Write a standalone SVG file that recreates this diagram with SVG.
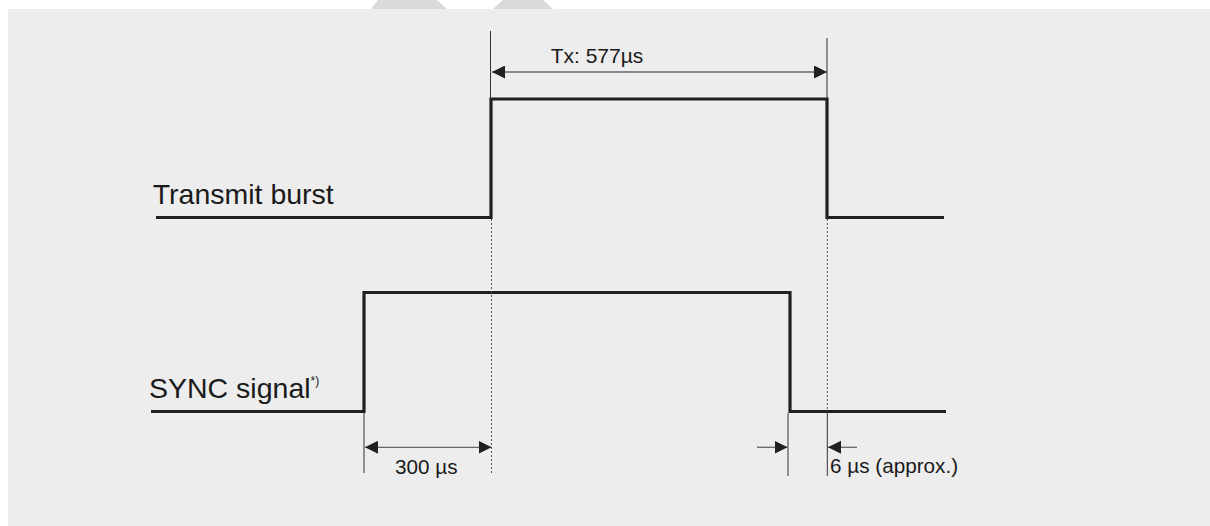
<svg xmlns="http://www.w3.org/2000/svg" width="1210" height="526" viewBox="0 0 1210 526">
<style>
.sig{fill:none;stroke:#231f20;stroke-width:3.2;stroke-linejoin:miter;stroke-linecap:butt}
.ext{stroke:#333;stroke-width:1;fill:none}
.dot{stroke:#555;stroke-width:1;stroke-dasharray:2 2;fill:none}
.dim{stroke:#666;stroke-width:1.3;fill:none}
.lbl{font-family:"Liberation Sans",Arial,sans-serif;fill:#1a1a1a}
</style>
<defs>
<marker id="ah" markerWidth="13" markerHeight="13" refX="13" refY="6.5" orient="auto-start-reverse" markerUnits="userSpaceOnUse">
<path d="M0,0 L13,6.5 L0,13 z" fill="#231f20"/>
</marker>
</defs>
<g id="background">
<rect x="0" y="0" width="1210" height="526" fill="#ffffff"/>
<polygon points="371,9 447,9 437,0 378,0" fill="#dadada"/>
<polygon points="493,9 553,9 543,0 503,0" fill="#dadada"/>
<rect x="8" y="9" width="1202" height="517" fill="#ededed"/>
</g>
<g id="transmit-burst">
<path class="sig" d="M156,217.5 H491 V99 H827 V217.5 H944"/>
<text class="lbl" x="152.7" y="204" font-size="28.5">Transmit burst</text>
</g>
<g id="sync-signal">
<path class="sig" d="M151,411.5 H364 V292.5 H790 V411.5 H946"/>
<text class="lbl" x="149" y="397.7" font-size="28.5">SYNC signal<tspan font-size="12" dy="-12.5">*)</tspan></text>
</g>
<g id="connectors">
<line class="ext" x1="490.5" y1="31" x2="490.5" y2="99"/>
<line class="ext" x1="827" y1="38" x2="827" y2="99"/>
<line class="dim" x1="492" y1="72" x2="827" y2="72" marker-start="url(#ah)" marker-end="url(#ah)"/>
<line class="dot" x1="491.5" y1="219" x2="491.5" y2="473"/>
<line class="dot" x1="827.3" y1="219" x2="827.3" y2="411"/>
<line class="ext" x1="364" y1="413" x2="364" y2="473"/>
<line class="ext" x1="788" y1="413" x2="788" y2="476"/>
<line class="ext" x1="827.3" y1="411" x2="827.3" y2="476"/>
<line class="dim" x1="365" y1="447.3" x2="491.5" y2="447.3" marker-start="url(#ah)" marker-end="url(#ah)"/>
<line class="dim" x1="757" y1="447.3" x2="787.5" y2="447.3" marker-end="url(#ah)"/>
<line class="dim" x1="857" y1="447.3" x2="828" y2="447.3" marker-end="url(#ah)"/>
</g>
<g id="labels">
<text class="lbl" x="550.7" y="62.7" font-size="21">Tx: 577µs</text>
<text class="lbl" x="395" y="474" font-size="20.7">300 µs</text>
<text class="lbl" x="830" y="473.3" font-size="20.7">6 µs (approx.)</text>
</g>
</svg>
